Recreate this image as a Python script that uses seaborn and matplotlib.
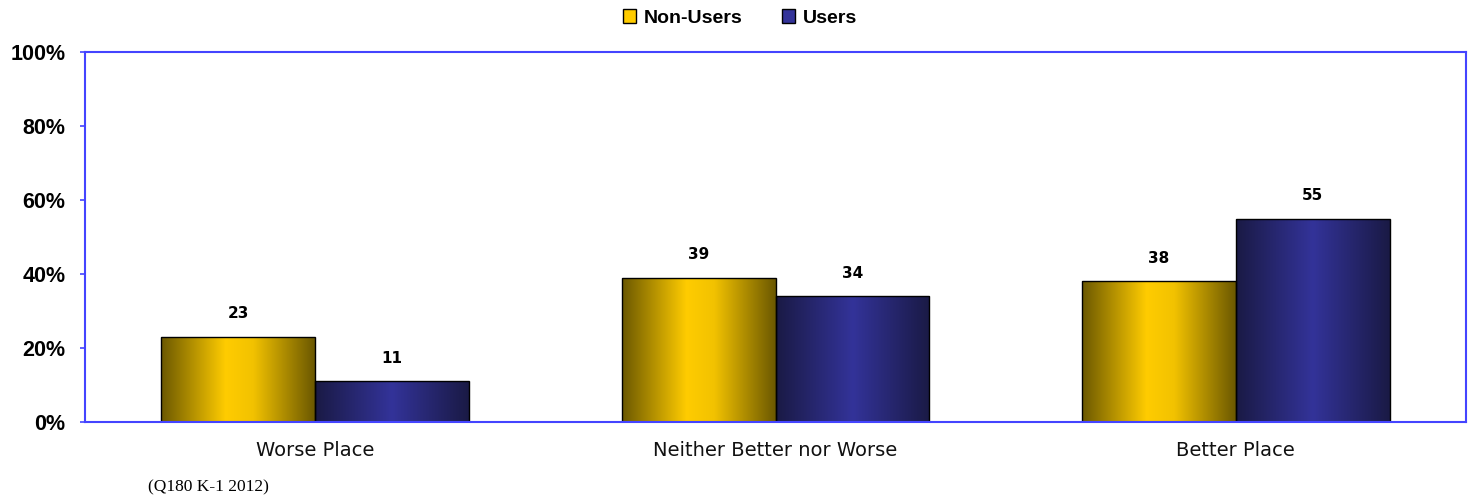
import numpy as np
import pandas as pd
import matplotlib
matplotlib.use("Agg")
import matplotlib.pyplot as plt
from matplotlib.colors import LinearSegmentedColormap
from matplotlib.patches import Patch
import seaborn as sns

# Data
categories = ["Worse Place", "Neither Better nor Worse", "Better Place"]
groups = ["Non-Users", "Users"]
non_users = [23, 39, 38]
users = [11, 34, 55]
yticks = [0, 20, 40, 60, 80, 100]
footnote = "(Q180 K-1 2012)"

df = pd.DataFrame({
    "category": categories * 2,
    "group": [groups[0]] * 3 + [groups[1]] * 3,
    "value": non_users + users,
})

# gradient colours (dark edge -> bright centre -> dark edge)
gold_cmap = LinearSegmentedColormap.from_list(
    "gold", [(0, "#6b5800"), (0.42, "#ffcc00"), (0.6, "#f2c200"), (1, "#6b5800")])
navy_cmap = LinearSegmentedColormap.from_list(
    "navy", [(0, "#1a1a45"), (0.5, "#333399"), (1, "#1a1a45")])
solid = {"Non-Users": "#ffcc00", "Users": "#333399"}
spine_col = "#4444ff"

sns.set_style("white")
plt.rcParams["font.family"] = ["DejaVu Sans"]
plt.rcParams["text.color"] = "black"
plt.rcParams["xtick.color"] = "black"
plt.rcParams["ytick.color"] = "black"

fig = plt.figure(figsize=(14.71, 5.03), dpi=100)
ax = fig.add_axes([85 / 1471, 81 / 503, 1381 / 1471, 370 / 503])

sns.barplot(data=df, x="category", y="value", hue="group", order=categories,
            hue_order=groups, palette=solid, width=0.668, gap=0,
            edgecolor="black", linewidth=1.0, legend=False, ax=ax)

# replace flat fills with horizontal gradients
grad = np.linspace(0, 1, 256).reshape(1, -1)
for cont, cmap in zip(ax.containers, [gold_cmap, navy_cmap]):
    for bar in cont:
        x0, y0 = bar.get_x(), bar.get_y()
        w, h = bar.get_width(), bar.get_height()
        im = ax.imshow(grad, cmap=cmap, aspect="auto", extent=[x0, x0 + w, y0, y0 + h],
                       zorder=bar.get_zorder() + 0.1, interpolation="bicubic")
        im.set_clip_path(bar)
        bar.set_facecolor("none")
        bar.set_zorder(bar.get_zorder() + 0.2)

# value labels above the bars
for cont, vals in zip(ax.containers, [non_users, users]):
    for bar, v in zip(cont, vals):
        ax.text(bar.get_x() + bar.get_width() / 2, v + 6.2, str(v), ha="center", va="center",
                fontsize=11, fontweight="bold", color="black")

ax.set_xlim(-0.5, 2.5)
ax.set_ylim(0, 100)
ax.set_yticks(yticks)
ax.set_yticklabels([f"{t}%" for t in yticks], fontsize=15.5, fontweight="bold",
                   family="Liberation Sans", color="black")
ax.set_xticks(range(len(categories)))
ax.set_xticklabels(categories, fontsize=14, color="#111111")
ax.set_xlabel("")
ax.set_ylabel("")
ax.tick_params(axis="y", which="both", left=True, length=3.6, width=1.2, color=spine_col, pad=10.5)
ax.tick_params(axis="x", bottom=False, pad=10)
for s in ax.spines.values():
    s.set_visible(True)
    s.set_color(spine_col)
    s.set_linewidth(1.5)

handles = [Patch(facecolor=solid[g], edgecolor="black", label=g) for g in groups]
fig.legend(handles=handles, loc="center", bbox_to_anchor=(740 / 1471, 1 - 18 / 503), ncol=2,
           frameon=False, handlelength=0.7, handleheight=0.7, handletextpad=0.4,
           columnspacing=2.0, prop={"family": "Liberation Sans", "weight": "bold", "size": 14})

fig.text(148 / 1471, 1 - 487 / 503, footnote, ha="left", va="center", fontsize=12.5,
         family="Liberation Serif", color="black")

fig.savefig("out.png", dpi=100)
